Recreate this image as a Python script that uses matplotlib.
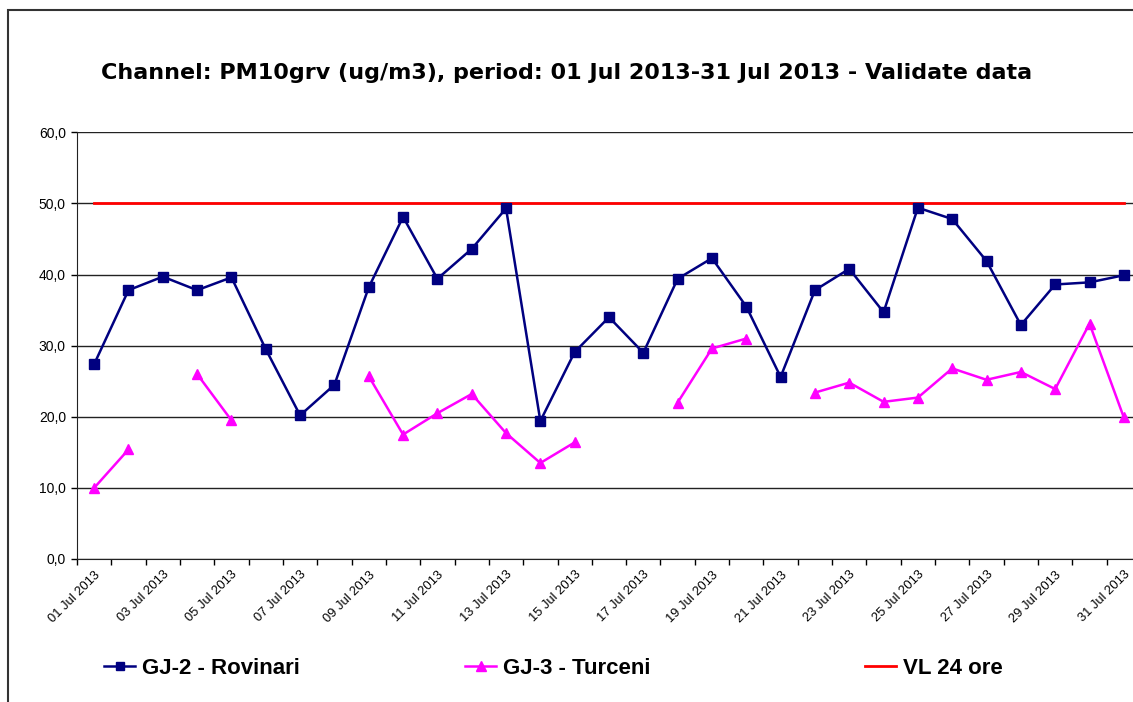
import numpy as np
import matplotlib.pyplot as plt
from matplotlib.lines import Line2D
from matplotlib.patches import Rectangle

nan = np.nan

days = [f"{d:02d} Jul 2013" for d in range(1, 32)]

rovinari = [27.4, 37.8, 39.7, 37.8, 39.6, 29.5, 20.2, 24.5, 38.2, 48.1,
            39.4, 43.6, 49.3, 19.4, 29.1, 34.0, 29.0, 39.4, 42.3, 35.5,
            25.6, 37.8, 40.8, 34.7, 49.4, 47.8, 41.9, 32.9, 38.6, 38.9, 39.9]

turceni = [10.0, 15.4, nan, 26.0, 19.5, nan, nan, nan, 25.7, 17.5,
           20.5, 23.2, 17.7, 13.5, 16.4, nan, nan, 22.0, 29.6, 31.0,
           nan, 23.4, 24.8, 22.1, 22.7, 26.8, 25.2, 26.3, 23.9, 33.1, 19.9]

vl_24 = [50.0] * 31

title = "Channel: PM10grv (ug/m3), period: 01 Jul 2013-31 Jul 2013 - Validate data"

fig = plt.figure(figsize=(11.33, 7.02), dpi=100)
W, H = 1133, 702

# outer chart border (cut off on the right and bottom like the source)
fig.patches.append(Rectangle((8 / W, -0.05), 1.2, 1 - 10 / H + 0.05,
                             transform=fig.transFigure, fill=False,
                             edgecolor='#333333', linewidth=1.5))

ax = fig.add_axes([77 / W, 1 - 559 / H, (1141 - 77) / W, (559 - 132.3) / H])
x = np.arange(len(days))

ax.plot(x, vl_24, color='#ff0000', linewidth=2, zorder=2)
ax.plot(x, rovinari, color='#000080', linewidth=1.8, marker='s',
        markersize=6.5, zorder=4)
ax.plot(x, turceni, color='#ff00ff', linewidth=1.8, marker='^',
        markersize=7.5, zorder=3)

ax.set_xlim(-0.5, len(days) - 0.5)
ax.set_ylim(0, 60)
ax.set_yticks(np.arange(0, 61, 10))
ax.set_yticklabels([f"{v:.1f}".replace('.', ',') for v in np.arange(0, 61, 10)],
                   fontsize=10, family='Liberation Sans')
ax.yaxis.grid(True, color='#222222', linewidth=1)
ax.set_axisbelow(True)

ax.set_xticks(x[::2])
ax.set_xticklabels(days[::2], rotation=45, ha='right', rotation_mode='anchor',
                   fontsize=9.3, family='Liberation Sans')
ax.set_xticks(np.arange(-0.5, len(days), 1), minor=True)
ax.tick_params(axis='x', which='major', length=0, pad=7)
ax.tick_params(axis='x', which='minor', length=4, width=1, direction='out')
ax.tick_params(axis='y', length=4, width=1, direction='out', pad=4)

for side in ['top', 'right']:
    ax.spines[side].set_visible(False)
ax.spines['left'].set_color('#222222')
ax.spines['bottom'].set_color('#222222')

fig.text(567 / W, 1 - 73 / H, title, ha='center', va='center',
         fontsize=16, fontweight='bold', family='DejaVu Sans')

# legend entries
entries = [
    (Line2D([], [], color='#000080', linewidth=1.8, marker='s', markersize=6),
     "GJ-2 - Rovinari", 104),
    (Line2D([], [], color='#ff00ff', linewidth=1.8, marker='^', markersize=7),
     "GJ-3 - Turceni", 465),
    (Line2D([], [], color='#ff0000', linewidth=2), "VL 24 ore", 865),
]
for handle, label, px in entries:
    fig.legend([handle], [label], loc='center left',
               bbox_to_anchor=(px / W, 1 - 668 / H), frameon=False,
               handlelength=1.4, handletextpad=0.3, borderpad=0,
               borderaxespad=0,
               prop={'family': 'Liberation Sans', 'weight': 'bold',
                     'stretch': 'normal', 'size': 16})

fig.savefig("out.png", dpi=100)
